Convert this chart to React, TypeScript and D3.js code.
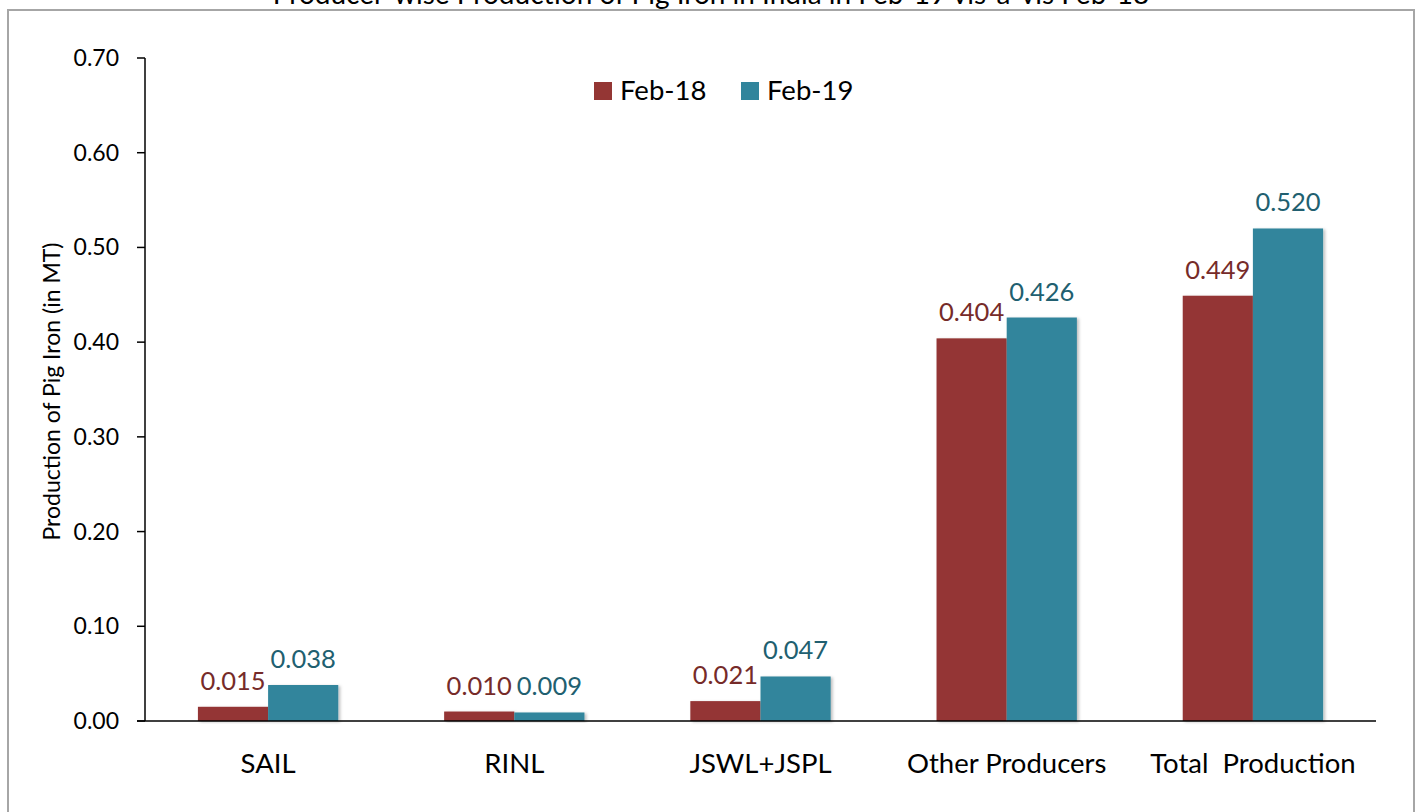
import React from "react";
import * as d3 from "d3";

const categories = ["SAIL", "RINL", "JSWL+JSPL", "Other Producers", "Total  Production"];
const seriesNames = ["Feb-18", "Feb-19"];
const feb18 = [0.015, 0.01, 0.021, 0.404, 0.449];
const feb19 = [0.038, 0.009, 0.047, 0.426, 0.52];
const yTicks = [0, 0.1, 0.2, 0.3, 0.4, 0.5, 0.6, 0.7];
const title = "Producer-wise Production of Pig Iron in India in Feb-19 vis-à-vis Feb-18";
const yTitle = "Production of Pig Iron (in MT)";

const barColors = ["#943634", "#31859c"];
const labelColors = ["#762b29", "#215f70"];
const FONT = "Lato, 'Open Sans', sans-serif";

export default function App() {
  const W = 1422;
  const H = 812;
  const left = 145;
  const right = 1376;
  const top = 58;
  const bottom = 721;

  const x = d3
    .scaleBand<string>()
    .domain(categories)
    .range([left, right])
    .paddingInner(0.43)
    .paddingOuter(0.215);
  const xi = d3.scaleBand<string>().domain(seriesNames).range([0, x.bandwidth()]).padding(0);
  const y = d3.scaleLinear().domain([0, 0.7]).range([bottom, top]);

  const series = [feb18, feb19];

  return (
    <div style={{ position: "absolute", left: 0, top: 0 }}>
      <svg width={W} height={H} style={{ display: "block", fontFamily: FONT }}>
        <defs>
          <filter id="sh" x="-20%" y="-20%" width="140%" height="140%">
            <feDropShadow dx="2" dy="1" stdDeviation="1.5" floodColor="#000" floodOpacity="0.25" />
          </filter>
        </defs>
        <rect x={0} y={0} width={W} height={H} fill="#fff" />
        {/* outer border */}
        <rect x={8} y={10} width={1406} height={H + 20} fill="none" stroke="#a6a6a6" strokeWidth={2} />
        {/* title (cut off at top, as in the reference) */}
        <text x={711} y={4} textAnchor="middle" fontSize={28} fill="#000">
          {title}
        </text>

        {/* y axis */}
        <line x1={left} x2={left} y1={top} y2={bottom} stroke="#000" strokeWidth={1.5} />
        {yTicks.map((t) => (
          <g key={t}>
            <line x1={left - 8} x2={left} y1={y(t)} y2={y(t)} stroke="#000" strokeWidth={1.5} />
            <text x={119} y={y(t)} dy="0.35em" textAnchor="end" fontSize={23} fill="#000">
              {t.toFixed(2)}
            </text>
          </g>
        ))}
        <text
          transform={`translate(60,${(top + bottom) / 2 + 2}) rotate(-90)`}
          textAnchor="middle"
          fontSize={23}
          fill="#000"
        >
          {yTitle}
        </text>

        {/* bars */}
        {categories.map((c, ci) =>
          series.map((s, si) => {
            const bx = (x(c) as number) + (xi(seriesNames[si]) as number);
            const bw = xi.bandwidth();
            const v = s[ci];
            return (
              <g key={c + si}>
                <rect
                  x={bx}
                  y={y(v)}
                  width={bw}
                  height={bottom - y(v)}
                  fill={barColors[si]}
                  filter="url(#sh)"
                />
                <text
                  x={bx + bw / 2}
                  y={y(v) - 17}
                  textAnchor="middle"
                  fontSize={25.5}
                  fill={labelColors[si]}
                >
                  {v.toFixed(3)}
                </text>
              </g>
            );
          })
        )}

        {/* x axis */}
        <line x1={left - 8} x2={right} y1={bottom} y2={bottom} stroke="#000" strokeWidth={1.5} />
        {categories.map((c) => (
          <text
            key={c}
            x={(x(c) as number) + x.bandwidth() / 2}
            y={773}
            textAnchor="middle"
            fontSize={27.5}
            fill="#000"
            style={{ whiteSpace: "pre" }}
          >
            {c}
          </text>
        ))}

        {/* legend */}
        {seriesNames.map((n, i) => {
          const lx = [594, 741][i];
          return (
            <g key={n}>
              <rect x={lx} y={82} width={18} height={18} fill={barColors[i]} />
              <text x={lx + 26} y={100} fontSize={27.5} fill="#000">
                {n}
              </text>
            </g>
          );
        })}
      </svg>
    </div>
  );
}
